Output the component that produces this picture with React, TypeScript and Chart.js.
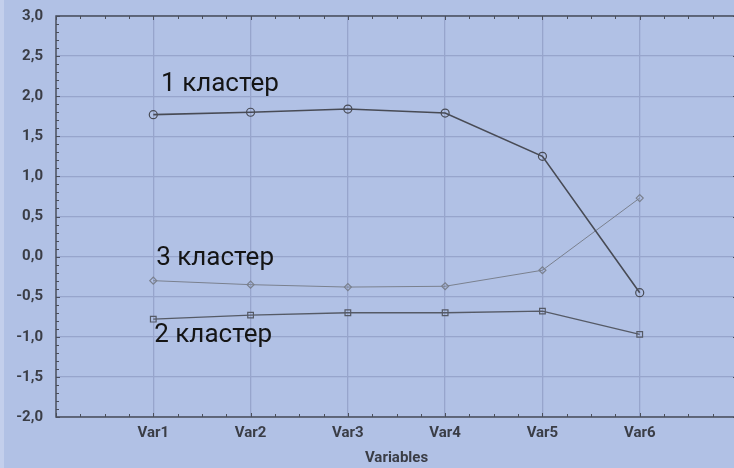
import React, { useEffect, useRef } from "react";
import { Chart, registerables } from "chart.js";

Chart.register(...registerables);

const categories = ["Var1", "Var2", "Var3", "Var4", "Var5", "Var6"];
const cluster1 = [1.77, 1.8, 1.84, 1.79, 1.25, -0.45];
const cluster2 = [-0.78, -0.73, -0.7, -0.7, -0.68, -0.97];
const cluster3 = [-0.3, -0.35, -0.38, -0.37, -0.17, 0.73];
const seriesLabels = ["1 кластер", "2 кластер", "3 кластер"];
// annotation anchors in data coords (x in category units, y value)
const labelPos = [
  { x: 1.08, y: 2.14 },
  { x: 1.01, y: -0.98 },
  { x: 1.03, y: -0.02 },
];
const yMin = -2;
const yMax = 3;
const xMin = 0;
const xMax = 7;

const BG = "#b1c1e5";
const TXT = "#3a3d46";

const toPoints = (arr: number[]) => arr.map((v, i) => ({ x: i + 1, y: v }));

const framePlugin = {
  id: "frame",
  afterDatasetsDraw(chart: any) {
    const { ctx, chartArea: a, scales } = chart;
    const xs = scales.x;
    const ys = scales.y;
    ctx.save();
    ctx.strokeStyle = "#4a4f5c";
    ctx.lineWidth = 1;
    for (let k = 0; k <= (yMax - yMin) * 10; k++) {
      const v = yMin + k / 10;
      const py = Math.round(ys.getPixelForValue(v)) + 0.5;
      const len = k % 5 === 0 ? 4 : 3;
      ctx.beginPath();
      ctx.moveTo(a.left, py);
      ctx.lineTo(a.left + len, py);
      ctx.moveTo(a.right, py);
      ctx.lineTo(a.right - len, py);
      ctx.stroke();
    }
    for (let k = 0; k <= (xMax - xMin) * 4; k++) {
      const v = xMin + k / 4;
      const px = Math.round(xs.getPixelForValue(v)) + 0.5;
      const len = k % 4 === 0 ? 4 : 3;
      ctx.beginPath();
      ctx.moveTo(px, a.top);
      ctx.lineTo(px, a.top + len);
      ctx.moveTo(px, a.bottom);
      ctx.lineTo(px, a.bottom - len);
      ctx.stroke();
    }
    ctx.lineWidth = 1.5;
    ctx.strokeRect(a.left, a.top, a.right - a.left, a.bottom - a.top);
    ctx.fillStyle = "#151515";
    ctx.font = "26px Roboto, 'Noto Sans', sans-serif";
    ctx.textBaseline = "middle";
    ctx.textAlign = "left";
    seriesLabels.forEach((t, i) => {
      const p = labelPos[i];
      ctx.fillText(t, xs.getPixelForValue(p.x), ys.getPixelForValue(p.y));
    });
    ctx.restore();
  },
};

export default function App() {
  const ref = useRef<HTMLCanvasElement | null>(null);
  useEffect(() => {
    if (!ref.current) return;
    const mk = (label: string, data: number[], color: string, style: any, w: number, r: number) => ({
      label,
      data: toPoints(data),
      borderColor: color,
      backgroundColor: "transparent",
      borderWidth: w,
      pointStyle: style,
      pointRadius: r,
      pointBorderColor: color,
      pointBorderWidth: 1.2,
      pointBackgroundColor: "transparent",
      tension: 0,
    });
    const tickFont = { family: "Roboto, sans-serif", size: 15, weight: "bold" };
    const chart = new Chart(ref.current, {
      type: "line",
      data: {
        datasets: [
          mk(seriesLabels[0], cluster1, "#484b55", "circle", 1.6, 4),
          mk(seriesLabels[1], cluster2, "#555a66", "rect", 1.3, 4),
          mk(seriesLabels[2], cluster3, "#7a808e", "rectRot", 1, 3.5),
        ],
      },
      plugins: [framePlugin],
      options: {
        animation: false,
        responsive: false,
        layout: { padding: { top: 8, right: 0, left: 0, bottom: 0 } },
        plugins: { legend: { display: false }, tooltip: { enabled: false } },
        scales: {
          x: {
            type: "linear",
            min: xMin,
            max: xMax,
            afterFit: (s: any) => {
              s.height = 52;
            },
            afterBuildTicks: (s: any) => {
              s.ticks = [];
              for (let i = xMin; i <= xMax; i++) s.ticks.push({ value: i });
            },
            grid: {
              color: (c: any) =>
                c.tick && c.tick.value > xMin && c.tick.value < xMax ? "#97a5cc" : "transparent",
              lineWidth: 1.3,
              drawTicks: false,
            },
            border: { display: false },
            ticks: {
              padding: 7,
              maxRotation: 0,
              autoSkip: false,
              color: TXT,
              font: tickFont,
              callback: (v: any) => (v >= 1 && v <= categories.length ? categories[v - 1] : ""),
            },
            title: {
              display: true,
              text: "Variables",
              color: TXT,
              font: tickFont,
              padding: { top: 0, bottom: 2 },
            },
          },
          y: {
            min: yMin,
            max: yMax,
            afterFit: (s: any) => {
              s.width = 56;
            },
            grid: { color: "#97a5cc", lineWidth: 1.3, drawTicks: false },
            border: { display: false },
            ticks: {
              stepSize: 0.5,
              padding: 13,
              color: TXT,
              font: tickFont,
              callback: (v: any) => Number(v).toFixed(1).replace(".", ","),
            },
          },
        },
      },
    });
    return () => chart.destroy();
  }, []);
  return (
    <div
      style={{
        position: "absolute",
        left: 0,
        top: 0,
        width: 734,
        height: 468,
        background: BG,
        overflow: "hidden",
      }}
    >
      <canvas
        ref={ref}
        width={744}
        height={475}
        style={{ display: "block", position: "absolute", left: 0, top: -6 }}
      />
      <div
        style={{
          position: "absolute",
          left: 0,
          top: 0,
          width: 4,
          height: 468,
          background: "#c3cfec",
        }}
      />
    </div>
  );
}
